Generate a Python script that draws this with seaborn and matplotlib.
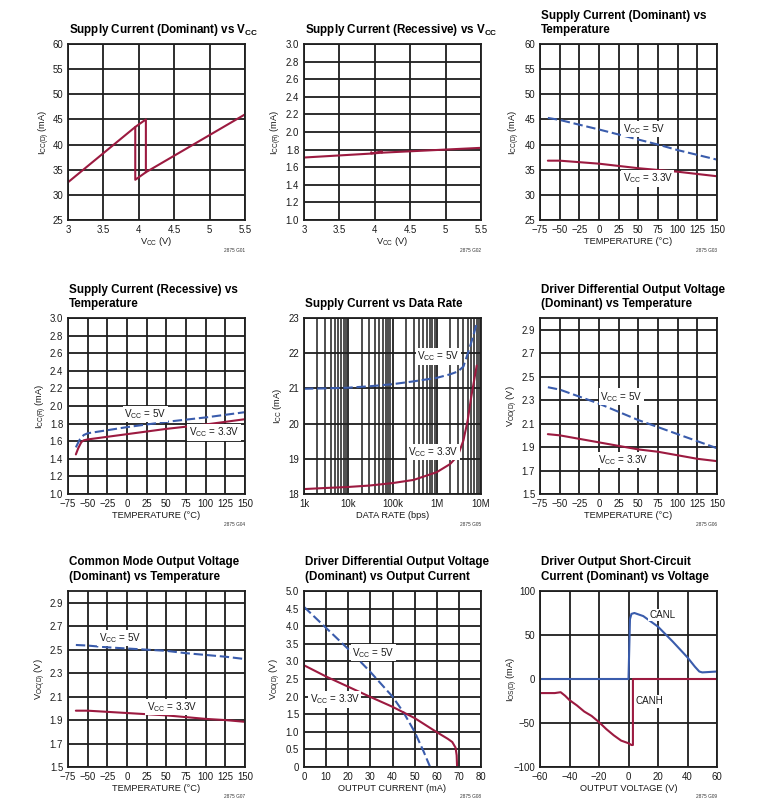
import matplotlib
matplotlib.use('Agg')
import matplotlib.pyplot as plt
from matplotlib import font_manager
from matplotlib.transforms import offset_copy
import seaborn as sns

# ------------------------
# data
# ------------------------

# G01 supply current (dominant) vs VCC - hysteresis loop
g01_vcc = [3.0, 3.95, 4.1, 4.1, 5.5]
g01_icc = [32.5, 43.5, 45.0, 34.5, 46.0]
g01_vcc_dn = [3.95, 3.95, 4.1]
g01_icc_dn = [43.5, 33.0, 34.5]

# G02 supply current (recessive) vs VCC
g02_vcc = [3.0, 3.95, 4.1, 4.1, 5.5]
g02_icc = [1.71, 1.755, 1.78, 1.765, 1.82]
g02_vcc_dn = [3.95, 3.95, 4.1]
g02_icc_dn = [1.77, 1.755, 1.765]

# G03 supply current (dominant) vs temperature
g03_temp_5 = [-65, -50, 0, 50, 75, 100, 150]
g03_icc_5 = [45.3, 44.9, 43.0, 41.0, 40.0, 38.9, 37.0]
g03_temp_33 = [-65, -50, 0, 50, 100, 150]
g03_icc_33 = [36.8, 36.8, 36.2, 35.3, 34.6, 33.7]

# G04 supply current (recessive) vs temperature
g04_temp_5 = [-65, -60, -55, -50, 0, 50, 100, 150]
g04_icc_5 = [1.53, 1.62, 1.67, 1.69, 1.76, 1.82, 1.87, 1.93]
g04_temp_33 = [-65, -62, -58, -55, -50, 0, 50, 100, 150]
g04_icc_33 = [1.45, 1.52, 1.59, 1.61, 1.62, 1.68, 1.74, 1.79, 1.85]

# G05 supply current vs data rate
g05_rate = [1e3, 3e3, 1e4, 3e4, 1e5, 3e5, 1e6, 2e6, 3e6, 4e6, 5e6, 6e6, 7e6, 8e6]
g05_icc_5 = [20.99, 21.0, 21.02, 21.06, 21.12, 21.2, 21.3, 21.4, 21.48, 21.62, 21.98, 22.3, 22.58, 22.85]
g05_icc_33 = [18.14, 18.17, 18.2, 18.24, 18.31, 18.4, 18.62, 18.85, 19.09, 19.52, 20.09, 20.75, 21.23, 21.65]

# G06 driver differential output voltage vs temperature
g06_temp = [-65, -50, -25, 0, 25, 50, 75, 100, 125, 150]
g06_vod_5 = [2.41, 2.39, 2.33, 2.27, 2.20, 2.13, 2.07, 2.01, 1.95, 1.89]
g06_vod_33 = [2.01, 2.00, 1.97, 1.94, 1.91, 1.88, 1.86, 1.83, 1.80, 1.78]

# G07 common mode output voltage vs temperature
g07_temp = [-65, -50, -25, 0, 25, 50, 75, 100, 125, 150]
g07_voc_5 = [2.54, 2.535, 2.52, 2.51, 2.50, 2.49, 2.47, 2.455, 2.44, 2.42]
g07_voc_33 = [1.98, 1.98, 1.97, 1.96, 1.95, 1.94, 1.925, 1.91, 1.90, 1.885]

# G08 driver differential output voltage vs output current
g08_i_5 = [0, 10, 20, 30, 40, 45, 50, 54, 57]
g08_vod_5 = [4.55, 3.95, 3.35, 2.7, 2.0, 1.55, 1.0, 0.45, 0.0]
g08_i_33 = [0, 10, 20, 30, 40, 50, 60, 65, 67, 68.5, 69, 69.2]
g08_vod_33 = [2.89, 2.57, 2.28, 1.99, 1.71, 1.39, 0.99, 0.8, 0.71, 0.55, 0.33, 0.0]

# G09 driver output short-circuit current vs voltage
g09_v_canl = [-60, 0, 1, 2, 4, 10, 20, 30, 40, 45, 48, 50, 55, 60]
g09_i_canl = [0, 0, 68, 74, 75, 71.5, 59.5, 42.5, 24.5, 14, 8.5, 7.5, 8, 8.5]
g09_v_canh = [-60, -50, -46, -43, -40, -35, -30, -25, -20, -15, -10, -5, 0, 2, 3, 3, 60]
g09_i_canh = [-16, -16, -15, -19, -24, -30, -37, -42, -49, -57, -64, -70, -73, -75, -75, 0, 0]

# ticks
volt_ticks = [3, 3.5, 4, 4.5, 5, 5.5]
volt_labels = ['3', '3.5', '4', '4.5', '5', '5.5']
temp_ticks = [-75, -50, -25, 0, 25, 50, 75, 100, 125, 150]
icc_d_ticks = [25, 30, 35, 40, 45, 50, 55, 60]
icc_r_ticks = [1.0, 1.2, 1.4, 1.6, 1.8, 2.0, 2.2, 2.4, 2.6, 2.8, 3.0]
rate_ticks = [1e3, 1e4, 1e5, 1e6, 1e7]
rate_labels = ['1k', '10k', '100k', '1M', '10M']
icc_rate_ticks = [18, 19, 20, 21, 22, 23]
vod_ticks = [1.5, 1.7, 1.9, 2.1, 2.3, 2.5, 2.7, 2.9]
vod_i_ticks = [0, 0.5, 1.0, 1.5, 2.0, 2.5, 3.0, 3.5, 4.0, 4.5, 5.0]
vod_i_labels = ['0', '0.5', '1.0', '1.5', '2.0', '2.5', '3.0', '3.5', '4.0', '4.5', '5.0']
iout_ticks = [0, 10, 20, 30, 40, 50, 60, 70, 80]
vout_ticks = [-60, -40, -20, 0, 20, 40, 60]
ios_ticks = [-100, -50, 0, 50, 100]

RED = '#9c1a40'
BLUE = '#3a5cac'
GRID = '#1e1e1e'

# ------------------------
# style
# ------------------------
sns.set_theme(style='white')
names = {f.name for f in font_manager.fontManager.ttflist}
narrow = 'Liberation Sans Narrow' in names
FONT = 'Liberation Sans Narrow' if narrow else 'Liberation Sans'
plt.rcParams['font.family'] = [FONT, 'DejaVu Sans']
plt.rcParams['mathtext.fontset'] = 'custom'
plt.rcParams['mathtext.rm'] = FONT
plt.rcParams['mathtext.it'] = FONT + ':italic'
plt.rcParams['mathtext.bf'] = FONT + ':bold'
plt.rcParams['axes.unicode_minus'] = True

TITLE_FS = 10.2 if narrow else 8.4
TICK_FS = 8.2 if narrow else 6.9
LABEL_FS = 7.8 if narrow else 6.7

W, H = 758, 801
fig = plt.figure(figsize=(W / 100, H / 100), dpi=100)

col_left = [68, 304, 540]
row_top = [44, 318, 591]
AW, AH = 177, 176


def make_ax(r, c):
    l = col_left[c]
    t = row_top[r]
    return fig.add_axes([l / W, 1 - (t + AH) / H, AW / W, AH / H])


def setup(ax, xlim, ylim, xticks, yticks, xlabel, ylabel, title, code,
          xticklabels=None, yticklabels=None, ylab_off=28, log=False):
    if log:
        ax.set_xscale('log')
    ax.set_xlim(*xlim)
    ax.set_ylim(*ylim)
    ax.set_xticks(xticks)
    ax.set_yticks(yticks)
    if xticklabels is not None:
        ax.set_xticklabels(xticklabels)
    if yticklabels is not None:
        ax.set_yticklabels(yticklabels)
    ax.grid(True, which='major', color=GRID, linewidth=1.3)
    if log:
        ax.xaxis.set_minor_locator(matplotlib.ticker.LogLocator(base=10, subs=range(2, 10)))
        ax.xaxis.set_minor_formatter(matplotlib.ticker.NullFormatter())
        ax.grid(True, which='minor', axis='x', color=GRID, linewidth=1.1)
    ax.tick_params(which='both', length=0, pad=3.5, labelsize=TICK_FS, labelcolor='#1a1a1a')
    for s in ax.spines.values():
        s.set_color(GRID)
        s.set_linewidth(1.3)
        s.set_visible(True)
    ax.set_xlabel(xlabel, fontsize=LABEL_FS, color='#1a1a1a')
    ax.set_ylabel(ylabel, fontsize=LABEL_FS, color='#1a1a1a')
    ax.xaxis.set_label_coords(0.5, -21.5 / AH)
    ax.xaxis.label.set_va('center')
    ax.yaxis.set_label_coords(-ylab_off / AW, 0.5)
    ax.yaxis.label.set_va('center')
    lines = title.split('\n')
    for i, line in enumerate(reversed(lines)):
        tr = offset_copy(ax.transAxes, fig=fig, x=1, y=11 + 14.5 * i, units='dots')
        ax.text(0, 1, line, transform=tr, ha='left', va='baseline',
                fontsize=TITLE_FS, fontweight='bold', color='black')
    tr = offset_copy(ax.transAxes, fig=fig, y=-30, units='dots')
    ax.text(1, 0, code, transform=tr, ha='right', va='center', fontsize=3.4, color='#333333')


def draw(ax, x, y, color, dashed=False):
    kw = dict(linestyle=(0, (4.5, 1.8))) if dashed else {}
    sns.lineplot(x=x, y=y, ax=ax, color=color, linewidth=1.5, estimator=None,
                 sort=False, legend=False, **kw)


def tag(ax, x, y, s, box=True):
    bbox = dict(facecolor='white', edgecolor='none', pad=1.0) if box else None
    ax.text(x, y, s, ha='center', va='center', fontsize=LABEL_FS + 0.4,
            color='#1a1a1a', bbox=bbox, zorder=5)


V5 = r'V$_{\mathregular{CC}}$ = 5V'
V33 = r'V$_{\mathregular{CC}}$ = 3.3V'
VCC_LBL = r'V$_{\mathregular{CC}}$ (V)'
TEMP_LBL = 'TEMPERATURE (°C)'

# G01
ax = make_ax(0, 0)
draw(ax, g01_vcc, g01_icc, RED)
draw(ax, g01_vcc_dn, g01_icc_dn, RED)
setup(ax, (3, 5.5), (25, 60), volt_ticks, icc_d_ticks, VCC_LBL,
      r'I$_{\mathregular{CC(D)}}$ (mA)', r'Supply Current (Dominant) vs V$_{\mathbf{CC}}$',
      '2875 G01', xticklabels=volt_labels, ylab_off=24)

# G02
ax = make_ax(0, 1)
draw(ax, g02_vcc, g02_icc, RED)
draw(ax, g02_vcc_dn, g02_icc_dn, RED)
setup(ax, (3, 5.5), (1.0, 3.0), volt_ticks, icc_r_ticks, VCC_LBL,
      r'I$_{\mathregular{CC(R)}}$ (mA)', r'Supply Current (Recessive) vs V$_{\mathbf{CC}}$',
      '2875 G02', xticklabels=volt_labels,
      yticklabels=['%.1f' % v for v in icc_r_ticks], ylab_off=28)

# G03
ax = make_ax(0, 2)
draw(ax, g03_temp_5, g03_icc_5, BLUE, dashed=True)
draw(ax, g03_temp_33, g03_icc_33, RED)
tag(ax, 57.5, 43.1, V5)
tag(ax, 62, 33.3, V33)
setup(ax, (-75, 150), (25, 60), temp_ticks, icc_d_ticks, TEMP_LBL,
      r'I$_{\mathregular{CC(D)}}$ (mA)', 'Supply Current (Dominant) vs\nTemperature',
      '2875 G03', ylab_off=26)

# G04
ax = make_ax(1, 0)
draw(ax, g04_temp_5, g04_icc_5, BLUE, dashed=True)
draw(ax, g04_temp_33, g04_icc_33, RED)
tag(ax, 23.5, 1.91, V5)
tag(ax, 110.5, 1.70, V33)
setup(ax, (-75, 150), (1.0, 3.0), temp_ticks, icc_r_ticks, TEMP_LBL,
      r'I$_{\mathregular{CC(R)}}$ (mA)', 'Supply Current (Recessive) vs\nTemperature',
      '2875 G04', yticklabels=['%.1f' % v for v in icc_r_ticks], ylab_off=27)

# G05
ax = make_ax(1, 1)
draw(ax, g05_rate, g05_icc_5, BLUE, dashed=True)
draw(ax, g05_rate, g05_icc_33, RED)
tag(ax, 1.1e6, 21.91, V5)
tag(ax, 0.85e6, 19.19, V33)
setup(ax, (1e3, 1e7), (18, 23), rate_ticks, icc_rate_ticks, 'DATA RATE (bps)',
      r'I$_{\mathregular{CC}}$ (mA)', 'Supply Current vs Data Rate',
      '2875 G05', xticklabels=rate_labels, ylab_off=27, log=True)

# G06
ax = make_ax(1, 2)
draw(ax, g06_temp, g06_vod_5, BLUE, dashed=True)
draw(ax, g06_temp, g06_vod_33, RED)
tag(ax, 28.5, 2.33, V5)
tag(ax, 30.7, 1.79, V33)
setup(ax, (-75, 150), (1.5, 3.0), temp_ticks, vod_ticks, TEMP_LBL,
      r'V$_{\mathregular{OD(D)}}$ (V)', 'Driver Differential Output Voltage\n(Dominant) vs Temperature',
      '2875 G06', ylab_off=28)

# G07
ax = make_ax(2, 0)
draw(ax, g07_temp, g07_voc_5, BLUE, dashed=True)
draw(ax, g07_temp, g07_voc_33, RED)
tag(ax, -9, 2.60, V5)
tag(ax, 57, 2.01, V33)
setup(ax, (-75, 150), (1.5, 3.0), temp_ticks, vod_ticks, TEMP_LBL,
      r'V$_{\mathregular{OC(D)}}$ (V)', 'Common Mode Output Voltage\n(Dominant) vs Temperature',
      '2875 G07', ylab_off=28)

# G08
ax = make_ax(2, 1)
draw(ax, g08_i_5, g08_vod_5, BLUE, dashed=True)
draw(ax, g08_i_33, g08_vod_33, RED)
tag(ax, 31.2, 3.25, V5)
tag(ax, 13.9, 1.92, V33)
setup(ax, (0, 80), (0, 5), iout_ticks, vod_i_ticks, 'OUTPUT CURRENT (mA)',
      r'V$_{\mathregular{OD(D)}}$ (V)', 'Driver Differential Output Voltage\n(Dominant) vs Output Current',
      '2875 G08', yticklabels=vod_i_labels, ylab_off=29)

# G09
ax = make_ax(2, 2)
draw(ax, g09_v_canl, g09_i_canl, BLUE)
draw(ax, g09_v_canh, g09_i_canh, RED)
tag(ax, 23, 72.8, 'CANL')
tag(ax, 14.1, -25.5, 'CANH')
setup(ax, (-60, 60), (-100, 100), vout_ticks, ios_ticks, 'OUTPUT VOLTAGE (V)',
      r'I$_{\mathregular{OS(D)}}$ (mA)', 'Driver Output Short-Circuit\nCurrent (Dominant) vs Voltage',
      '2875 G09', ylab_off=28)

fig.savefig('out.png', dpi=100, facecolor='white')
